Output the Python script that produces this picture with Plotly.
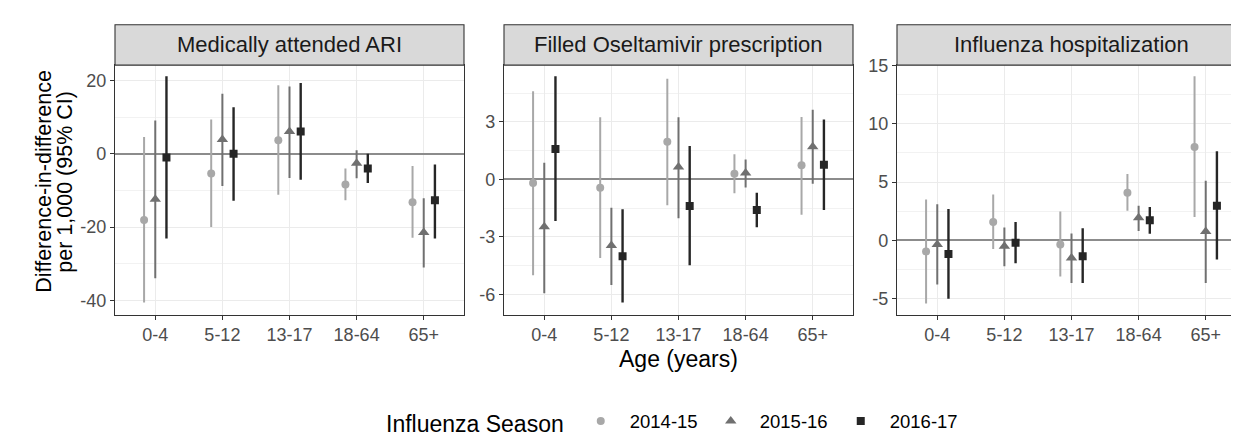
import plotly.graph_objects as go

# ---------------- data ----------------
ages = ["0-4", "5-12", "13-17", "18-64", "65+"]
seasons = ["2014-15", "2015-16", "2016-17"]
panel_titles = ["Medically attended ARI", "Filled Oseltamivir prescription", "Influenza hospitalization"]

ari_est = {"2014-15": [-18.1, -5.4, 3.7, -8.4, -13.2],
           "2015-16": [-12.4, 3.9, 6.1, -2.6, -21.5],
           "2016-17": [-1.0, 0.0, 6.1, -4.0, -12.7]}
ari_lo = {"2014-15": [-40.6, -20.0, -11.2, -12.7, -22.9],
          "2015-16": [-34.0, -8.8, -6.6, -6.7, -31.0],
          "2016-17": [-23.1, -12.8, -7.1, -8.0, -23.1]}
ari_hi = {"2014-15": [4.6, 9.4, 18.7, -4.0, -3.3],
          "2015-16": [9.1, 16.4, 18.4, 1.0, -12.1],
          "2016-17": [21.2, 12.7, 19.3, 0.0, -2.9]}

osel_est = {"2014-15": [-0.18, -0.43, 1.96, 0.30, 0.74],
            "2015-16": [-2.47, -3.44, 0.65, 0.33, 1.70],
            "2016-17": [1.59, -4.0, -1.39, -1.59, 0.77]}
osel_lo = {"2014-15": [-5.0, -4.1, -1.35, -0.72, -1.84],
           "2015-16": [-5.94, -5.5, -2.02, -0.42, -0.22],
           "2016-17": [-2.17, -6.42, -4.48, -2.49, -1.59]}
osel_hi = {"2014-15": [4.6, 3.24, 5.25, 1.32, 3.26],
           "2015-16": [0.87, -1.47, 3.24, 1.04, 3.63],
           "2016-17": [5.38, -1.56, 1.74, -0.69, 3.13]}

hosp_est = {"2014-15": [-0.97, 1.57, -0.36, 4.09, 8.01],
            "2015-16": [-0.36, -0.52, -1.52, 1.93, 0.75],
            "2016-17": [-1.19, -0.22, -1.38, 1.71, 2.96]}
hosp_lo = {"2014-15": [-5.44, -0.75, -3.12, 2.54, 1.99],
           "2015-16": [-3.81, -2.24, -3.67, 0.80, -3.67],
           "2016-17": [-5.03, -1.99, -3.67, 0.55, -1.66]}
hosp_hi = {"2014-15": [3.5, 3.92, 2.46, 5.69, 14.09],
           "2015-16": [3.09, 1.10, 0.58, 2.96, 5.11],
           "2016-17": [2.68, 1.57, 1.02, 2.85, 7.65]}

y_ticks = [[-40, -20, 0, 20], [-6, -3, 0, 3], [-5, 0, 5, 10, 15]]
y_minor = [[-30, -10, 10], [-4.5, -1.5, 1.5, 4.5], [-2.5, 2.5, 7.5, 12.5]]
y_ranges = [[-43.9, 24.2], [-7.05, 5.96], [-6.4, 15.05]]

# ---------------- styles ----------------
W, H = 1239, 435
colors = {"2014-15": "#A8A8A8", "2015-16": "#707070", "2016-17": "#262626"}
symbols = {"2014-15": "circle", "2015-16": "triangle-up", "2016-17": "square"}
msize = {"2014-15": 8, "2015-16": 10, "2016-17": 8}
lwidth = {"2014-15": 2, "2015-16": 2, "2016-17": 2.4}
dodge = {"2014-15": -1 / 6, "2015-16": 0.0, "2016-17": 1 / 6}
FONT = "Liberation Sans, Arial, sans-serif"

panel_px = [(107, 456), (496, 845), (889, 1238)]
plot_top, plot_bot = 50, 309
strip_top = 8

def px_x(x):
    return x / W

def px_y(y):
    return (H - y) / H

data_sets = [(ari_est, ari_lo, ari_hi), (osel_est, osel_lo, osel_hi), (hosp_est, hosp_lo, hosp_hi)]

fig = go.Figure()
for p, (est, lo, hi) in enumerate(data_sets):
    ax = "" if p == 0 else str(p + 1)
    for s in seasons:
        xs = [i + dodge[s] for i in range(len(ages))]
        fig.add_trace(go.Scatter(
            x=xs, y=est[s], mode="markers", name=s, legendgroup=s,
            showlegend=(p == 0),
            xaxis="x" + ax, yaxis="y" + ax,
            marker=dict(symbol=symbols[s], size=msize[s], color=colors[s]),
            error_y=dict(type="data", symmetric=False,
                         array=[h - e for h, e in zip(hi[s], est[s])],
                         arrayminus=[e - l for e, l in zip(est[s], lo[s])],
                         width=0, thickness=lwidth[s], color=colors[s]),
        ))

layout = dict(
    width=W, height=H,
    margin=dict(l=0, r=0, t=0, b=0, pad=0),
    paper_bgcolor="white", plot_bgcolor="white",
    font=dict(family=FONT, color="#000000"),
    showlegend=True,
    legend=dict(orientation="h", x=px_x(376), xanchor="left", y=px_y(421), yanchor="middle",
                title=dict(text="Influenza Season", font=dict(size=23, color="#000000"), side="left"),
                font=dict(size=18.5, color="#000000"),
                itemwidth=48, entrywidth=67, entrywidthmode="pixels",
                bgcolor="rgba(0,0,0,0)"),
)

shapes = []
annotations = []
for p in range(3):
    ax = "" if p == 0 else str(p + 1)
    x0, x1 = panel_px[p]
    layout["xaxis" + ax] = dict(
        domain=[px_x(x0), px_x(x1)], anchor="y" + ax,
        range=[-0.6, len(ages) - 0.4],
        tickmode="array", tickvals=list(range(len(ages))), ticktext=ages,
        ticks="outside", ticklen=4, tickwidth=1, tickcolor="#333333",
        tickfont=dict(size=18, color="#4D4D4D", family=FONT),
        showgrid=True, gridcolor="#EBEBEB", gridwidth=1.1,
        showline=True, mirror=True, linecolor="#333333", linewidth=1.1,
        zeroline=False,
    )
    layout["yaxis" + ax] = dict(
        domain=[px_y(plot_bot), px_y(plot_top)], anchor="x" + ax,
        range=y_ranges[p],
        tickmode="array", tickvals=y_ticks[p], ticktext=[str(v) for v in y_ticks[p]],
        ticks="outside", ticklen=4, tickwidth=1, tickcolor="#333333",
        tickfont=dict(size=18, color="#4D4D4D", family=FONT),
        showgrid=True, gridcolor="#EBEBEB", gridwidth=1.1,
        minor=dict(tickmode="array", tickvals=y_minor[p], showgrid=True,
                   gridcolor="#F2F2F2", gridwidth=0.6, ticks=""),
        showline=True, mirror=True, linecolor="#333333", linewidth=1.1,
        zeroline=True, zerolinecolor="#8C8C8C", zerolinewidth=1.5,
    )
    # facet strip
    shapes.append(dict(type="rect", xref="paper", yref="paper",
                       x0=px_x(x0), x1=px_x(x1), y0=px_y(plot_top), y1=px_y(strip_top),
                       fillcolor="#D9D9D9", line=dict(color="#333333", width=1.1), layer="above"))
    annotations.append(dict(text=panel_titles[p], xref="paper", yref="paper",
                            x=px_x((x0 + x1) / 2), y=px_y((strip_top + plot_top) / 2),
                            xanchor="center", yanchor="middle", showarrow=False,
                            font=dict(size=22, color="#1A1A1A", family=FONT)))

annotations.append(dict(text="Age (years)", xref="paper", yref="paper",
                        x=px_x(670.5), y=px_y(355), xanchor="center", yanchor="middle",
                        showarrow=False, font=dict(size=23, color="#000000", family=FONT)))
annotations.append(dict(text="Difference-in-difference", xref="paper", yref="paper",
                        x=px_x(36), y=px_y(171), xanchor="center", yanchor="middle", textangle=-90,
                        showarrow=False, font=dict(size=21.5, color="#000000", family=FONT)))
annotations.append(dict(text="per 1,000 (95% CI)", xref="paper", yref="paper",
                        x=px_x(57), y=px_y(171), xanchor="center", yanchor="middle", textangle=-90,
                        showarrow=False, font=dict(size=21.5, color="#000000", family=FONT)))

layout["shapes"] = shapes
layout["annotations"] = annotations
fig.update_layout(**layout)
fig.write_html("out.html")
